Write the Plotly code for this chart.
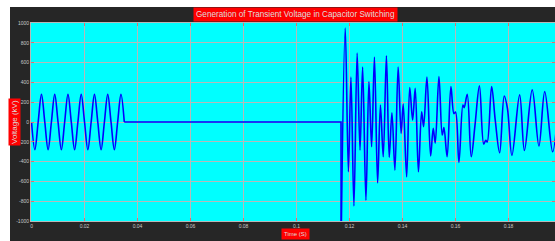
import plotly.graph_objects as go

# ---- data ----
# steady-state sinusoid before switching (s, kV)
sine_t = [0, 0.00125, 0.0025, 0.00375, 0.005, 0.00625, 0.0075, 0.00875, 0.01,
          0.01125, 0.0125, 0.01375, 0.015, 0.01625, 0.0175, 0.01875, 0.02,
          0.02125, 0.0225, 0.02375, 0.025, 0.02625, 0.0275, 0.02875, 0.03,
          0.03125, 0.0325, 0.03375, 0.035]
sine_v = [0, -280, 0, 280, 0, -280, 0, 280, 0,
          -280, 0, 280, 0, -280, 0, 280, 0,
          -280, 0, 280, 0, -280, 0, 280, 0,
          -280, 0, 280, 0]

# dead interval and switching instant
flat_t = [0.035, 0.11679, 0.11684]
flat_v = [0, 0, -1200]

# transient after capacitor switching (extrema)
tr_t = [0.11684, 0.11838, 0.11958, 0.12053, 0.12166, 0.12287, 0.12396, 0.12494,
        0.12619, 0.12732, 0.12834, 0.12940, 0.13060, 0.13166, 0.13272, 0.13392,
        0.13498, 0.13600, 0.13713, 0.13834, 0.13947, 0.14026, 0.14155, 0.14272,
        0.14381, 0.14479, 0.14600, 0.14721, 0.14796, 0.14921, 0.15060, 0.15158,
        0.15234, 0.15374, 0.15498, 0.15562, 0.15683, 0.15826, 0.15940, 0.16000,
        0.16128, 0.16279, 0.16328, 0.16442, 0.16592, 0.16732, 0.16902, 0.17064,
        0.17140, 0.17196, 0.17362, 0.17498, 0.17664, 0.17838, 0.17958, 0.18128,
        0.18419, 0.18600, 0.18894, 0.19147, 0.19366, 0.19664, 0.19902]
tr_v = [-1200, 949, -503, 453, -848, 696, -284, 554,
        -790, 408, -250, 655, -615, 172, -351, 669,
        -358, 94, -486, 554, -115, 182, -554, 348,
        20, 341, -503, 104, -47, 453, -344, -64,
        -213, 459, -132, -57, -351, 358, 85, 100,
        -408, 172, 145, 281, -351, -40, 365, -223,
        -185, -203, 358, 20, -311, 263, 139, -337,
        274, -287, 324, -243, 307, -301, 320]

x_ticks = [0, 0.02, 0.04, 0.06, 0.08, 0.1, 0.12, 0.14, 0.16, 0.18]
x_ticklabels = ["0", "0.02", "0.04", "0.06", "0.08", "0.1", "0.12", "0.14", "0.16", "0.18"]
y_ticks = [-1000, -800, -600, -400, -200, 0, 200, 400, 600, 800, 1000]
y_ticklabels = ["-1000", "-800", "-600", "-400", "-200", "0", "200", "400", "600", "800", "1000"]

title_text = "Generation of Transient Voltage in Capacitor Switching"
x_label = "Time (S)"
y_label = "Voltage (kV)"

# ---- figure ----
W, H = 555, 241
ML, MR, MT, MB = 31, 0, 23, 20
LINE = dict(color="#0000ff", width=1.6)

fig = go.Figure()
fig.add_trace(go.Scatter(x=sine_t, y=sine_v, mode="lines", line=dict(shape="spline", **LINE),
                         showlegend=False, hoverinfo="skip"))
fig.add_trace(go.Scatter(x=flat_t, y=flat_v, mode="lines", line=LINE,
                         showlegend=False, hoverinfo="skip"))
fig.add_trace(go.Scatter(x=tr_t, y=tr_v, mode="lines", line=dict(shape="spline", **LINE),
                         showlegend=False, hoverinfo="skip"))

plot_w = W - ML - MR
plot_h = H - MT - MB
px_per_s = 2650.0

axis_common = dict(
    automargin=False,
    showgrid=True, gridcolor="#b8b8b8", gridwidth=1,
    showline=True, linecolor="#b8b8b8", linewidth=1, mirror="ticks",
    ticks="inside", ticklen=3, tickcolor="#e07070",
    tickfont=dict(family="Liberation Sans, Arial, sans-serif", size=5, color="#c8c8c8"),
    zeroline=False, fixedrange=True,
)

fig.update_xaxes(range=[-0.0002, -0.0002 + plot_w / px_per_s], tickmode="array",
                 tickvals=x_ticks, ticktext=x_ticklabels, **axis_common)
fig.update_yaxes(range=[-1000, 1000], tickmode="array",
                 tickvals=y_ticks, ticktext=y_ticklabels, **axis_common)

def px_to_paper_x(px):
    return (px - ML) / plot_w

def py_to_paper_y(py):
    return (H - MB - py) / plot_h

base_font = "Liberation Sans, Arial, sans-serif"
annotations = [
    dict(text=title_text, x=px_to_paper_x(295.5), y=py_to_paper_y(15), xref="paper", yref="paper",
         xanchor="center", yanchor="middle", showarrow=False, bgcolor="#ff0000", borderpad=2,
         font=dict(family=base_font, size=8.2, color="#dcdcdc")),
    dict(text=y_label, x=px_to_paper_x(14), y=py_to_paper_y(122), xref="paper", yref="paper",
         xanchor="center", yanchor="middle", showarrow=False, textangle=-90, bgcolor="#ff0000",
         borderpad=1, font=dict(family=base_font, size=8, color="#dcdcdc")),
    dict(text=x_label, x=px_to_paper_x(295.5), y=py_to_paper_y(234), xref="paper", yref="paper",
         xanchor="center", yanchor="middle", showarrow=False, bgcolor="#ff0000", borderpad=2,
         font=dict(family=base_font, size=6, color="#dcdcdc")),
]

shapes = [
    # white strips around the dark figure panel
    dict(type="rect", xref="paper", yref="paper", layer="above",
         x0=px_to_paper_x(0), x1=px_to_paper_x(W + 5), y0=py_to_paper_y(7), y1=py_to_paper_y(-5),
         fillcolor="#ffffff", line=dict(width=0)),
    dict(type="rect", xref="paper", yref="paper", layer="above",
         x0=px_to_paper_x(-5), x1=px_to_paper_x(10), y0=py_to_paper_y(H + 5), y1=py_to_paper_y(-5),
         fillcolor="#ffffff", line=dict(width=0)),
]

fig.update_layout(
    width=W, height=H,
    margin=dict(l=ML, r=MR, t=MT, b=MB, pad=0),
    paper_bgcolor="#262626", plot_bgcolor="#00ffff",
    annotations=annotations, shapes=shapes,
    showlegend=False,
)

fig.write_html(
    "out.html",
    config={"displayModeBar": False},
    post_script="document.body.style.margin='0';document.body.style.padding='0';"
                "document.documentElement.style.overflow='hidden';",
)
